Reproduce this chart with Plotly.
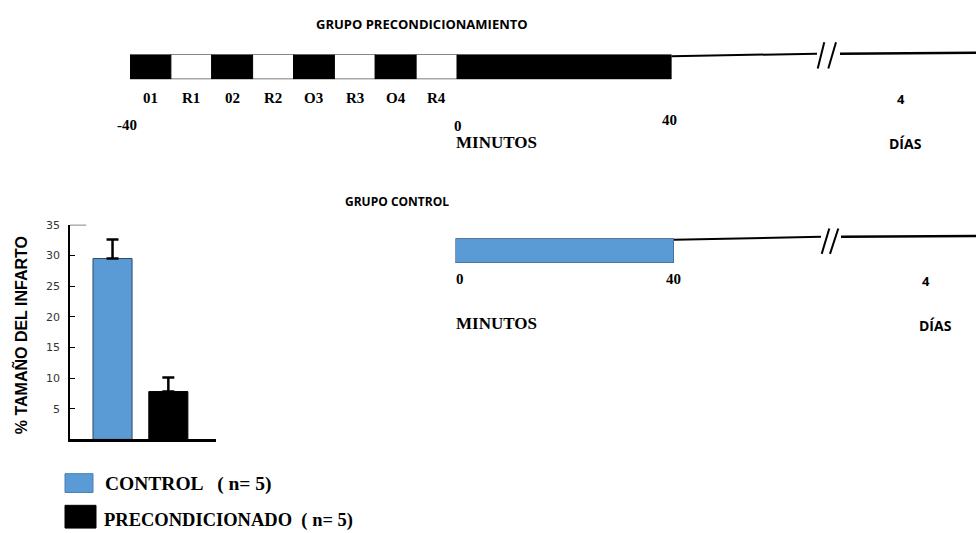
import plotly.graph_objects as go

# ---- data -------------------------------------------------------------
groups = ["CONTROL", "PRECONDICIONADO"]
infarct_size = [29.5, 7.8]          # % infarct size (mean)
infarct_err = [3.1, 2.3]            # upper error (SEM)
n_animals = [5, 5]
y_ticks = [5, 10, 15, 20, 25, 30, 35]

# ischemic preconditioning: 4 cycles of occlusion / reperfusion, 5 min each
pre_labels = ["01", "R1", "02", "R2", "O3", "R3", "O4", "R4"]
pre_start = [-40, -35, -30, -25, -20, -15, -10, -5]
pre_dur = [5, 5, 5, 5, 5, 5, 5, 5]
pre_is_occlusion = [True, False, True, False, True, False, True, False]

# sustained occlusion (minutes)
occl_start = [0]
occl_dur = [40]

# ---- styling ----------------------------------------------------------
W, H = 976, 533
BLUE = "#5B9BD5"
BLACK = "#000000"
SERIF = "Liberation Serif"
SANS = "Open Sans"


def fx(px):
    return px / W


def fy(py):
    return 1 - py / H


fig = go.Figure()

# infarct size per group
fig.add_trace(go.Bar(
    x=[0, 1], y=infarct_size, width=0.70,
    marker=dict(color=[BLUE, BLACK], line=dict(color=["#2E4A6B", BLACK], width=1)),
    error_y=dict(type="data", symmetric=False, array=infarct_err,
                 arrayminus=[0, 0], color=BLACK, thickness=2.5, width=6),
    xaxis="x", yaxis="y", showlegend=False, hoverinfo="skip",
))
# preconditioning cycles
fig.add_trace(go.Bar(
    orientation="h", y=[0] * len(pre_labels), x=pre_dur, base=pre_start, width=1,
    marker=dict(color=[BLACK if o else "white" for o in pre_is_occlusion],
                line=dict(color=BLACK, width=1)),
    xaxis="x2", yaxis="y2", showlegend=False, hoverinfo="skip",
))
# 40 min occlusion after preconditioning
fig.add_trace(go.Bar(
    orientation="h", y=[0], x=occl_dur, base=occl_start, width=1,
    marker=dict(color=BLACK, line=dict(color=BLACK, width=1)),
    xaxis="x3", yaxis="y3", showlegend=False, hoverinfo="skip",
))
# 40 min occlusion, control group
fig.add_trace(go.Bar(
    orientation="h", y=[0], x=occl_dur, base=occl_start, width=1,
    marker=dict(color=BLUE, line=dict(color="#2E4A6B", width=1)),
    xaxis="x4", yaxis="y4", showlegend=False, hoverinfo="skip",
))

hidden = dict(visible=False, fixedrange=True)
band_top = [fy(74), fy(49)]
band_ctl = [fy(260), fy(235)]

fig.update_layout(
    width=W, height=H,
    margin=dict(l=0, r=0, t=0, b=0),
    paper_bgcolor="white", plot_bgcolor="rgba(0,0,0,0)",
    barmode="overlay",
    xaxis=dict(domain=[fx(70), fx(216)], range=[-0.762, 1.854], showline=True,
               linecolor=BLACK, linewidth=3, showticklabels=False, ticks="",
               showgrid=False, zeroline=False, fixedrange=True),
    yaxis=dict(domain=[fy(438.3), fy(221.3)], range=[0, 35], showline=True,
               linecolor=BLACK, linewidth=1.5, ticks="inside", ticklen=5,
               tickwidth=1, tickcolor=BLACK, tickvals=y_ticks,
               ticktext=[str(v) for v in y_ticks], ticklabelstandoff=6,
               tickfont=dict(family="DejaVu Sans", size=11, color="#333333"),
               showgrid=False, zeroline=False, fixedrange=True),
    xaxis2=dict(domain=[fx(130), fx(457)], range=[-40, 0], **hidden),
    yaxis2=dict(domain=band_top, range=[-0.5, 0.5], anchor="x2", **hidden),
    xaxis3=dict(domain=[fx(457), fx(671.5)], range=[0, 40], **hidden),
    yaxis3=dict(domain=band_top, range=[-0.5, 0.5], anchor="x3", **hidden),
    xaxis4=dict(domain=[fx(455.5), fx(674)], range=[0, 40], **hidden),
    yaxis4=dict(domain=band_ctl, range=[-0.5, 0.5], anchor="x4", **hidden),
)

shapes = []


def seg(x0, y0, x1, y1, w=2):
    shapes.append(dict(type="line", xref="paper", yref="paper",
                       x0=fx(x0), y0=fy(y0), x1=fx(x1), y1=fy(y1),
                       line=dict(color=BLACK, width=w)))


# follow-up lines with axis-break marks
seg(671.5, 50.7, 817, 48.3, 2)
seg(840, 48.3, 976, 47.3, 2.5)
seg(817.7, 63.3, 824.3, 36.7, 2)
seg(828.3, 63.3, 836, 36.7, 2)
seg(674, 236.5, 821, 233.5, 2)
seg(841, 233.5, 976, 232.7, 2.5)
seg(821.7, 250.7, 829.3, 225, 2)
seg(830, 250.7, 838.3, 225, 2)

# longer top tick of the y axis
shapes.append(dict(type="line", xref="x", yref="y", x0=-0.762, x1=-0.47,
                   y0=35, y1=35, line=dict(color=BLACK, width=1)))
# legend swatches
shapes.append(dict(type="rect", xref="paper", yref="paper",
                   x0=fx(65), x1=fx(93), y0=fy(492), y1=fy(473),
                   fillcolor=BLUE, line=dict(color="#4a7fb0", width=1)))
shapes.append(dict(type="rect", xref="paper", yref="paper",
                   x0=fx(65), x1=fx(96), y0=fy(528), y1=fy(505),
                   fillcolor=BLACK, line=dict(color=BLACK, width=1)))
fig.update_layout(shapes=shapes)

ann = []


def text(s, x, y, family=SERIF, size=15, xanchor="center", xref="paper", angle=0):
    ann.append(dict(text=s, x=x if xref != "paper" else fx(x), y=fy(y),
                    xref=xref, yref="paper", showarrow=False, xanchor=xanchor,
                    yanchor="middle", textangle=angle,
                    font=dict(family=family, size=size, color=BLACK)))


# titles
text("<b>GRUPO PRECONDICIONAMIENTO</b>", 422, 18, SANS, 13)
text("<b>GRUPO CONTROL</b>", 397, 198, SANS, 12)

# cycle labels centred on each segment
for lab, s, d in zip(pre_labels, pre_start, pre_dur):
    text(f"<b>{lab}</b>", s + d / 2, 93, xref="x2")

# time labels, preconditioning group
text("<b>-40</b>", 127, 120)
text("<b>0</b>", 458, 121)
text("<b>40</b>", 669, 115)
text("<b>MINUTOS</b>", 496, 138, size=17)
text("<b>4</b>", 901, 94, SANS, 13)
text("<b>DÍAS</b>", 905, 139, SANS, 14)

# time labels, control group
text("<b>0</b>", 460, 276)
text("<b>40</b>", 673, 276)
text("<b>MINUTOS</b>", 496, 321, size=17)
text("<b>4</b>", 926, 278, SANS, 13)
text("<b>DÍAS</b>", 935, 323, SANS, 14)

# y axis title
text("<b>% TAMAÑO DEL INFARTO</b>", 20, 333, "Liberation Sans", 16, angle=-90)

# legend labels
text(f"<b>{groups[0]}   ( n= {n_animals[0]})</b>", 103, 483, SERIF, 19.5, xanchor="left")
text(f"<b>{groups[1]}  ( n= {n_animals[1]})</b>", 102, 520, SERIF, 18.5, xanchor="left")

fig.update_layout(annotations=ann)

fig.write_html("out.html")
